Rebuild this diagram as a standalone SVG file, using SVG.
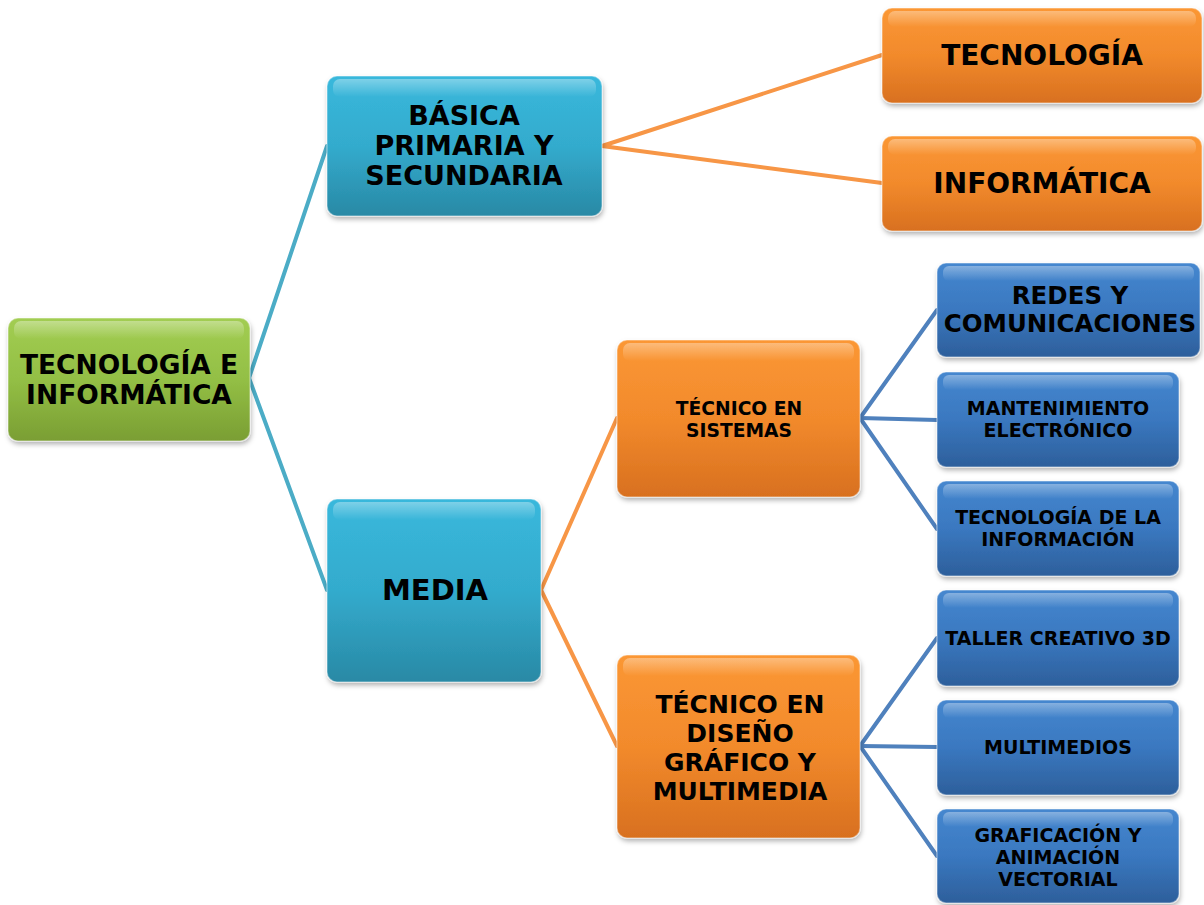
<svg xmlns="http://www.w3.org/2000/svg" width="1204" height="905" viewBox="0 0 1204 905">
<defs>
<linearGradient id="gGreen" x1="0" y1="0" x2="0" y2="1"><stop offset="0" stop-color="#a2cd52"/><stop offset="0.5" stop-color="#93bf45"/><stop offset="1" stop-color="#7a9e33"/></linearGradient>
<linearGradient id="gTeal" x1="0" y1="0" x2="0" y2="1"><stop offset="0" stop-color="#39b8dc"/><stop offset="0.5" stop-color="#33abcd"/><stop offset="1" stop-color="#2989a5"/></linearGradient>
<linearGradient id="gOrange" x1="0" y1="0" x2="0" y2="1"><stop offset="0" stop-color="#fb9734"/><stop offset="0.5" stop-color="#f28a2c"/><stop offset="1" stop-color="#d8701f"/></linearGradient>
<linearGradient id="gBlue" x1="0" y1="0" x2="0" y2="1"><stop offset="0" stop-color="#4587cf"/><stop offset="0.5" stop-color="#3a78c0"/><stop offset="1" stop-color="#2d5f9b"/></linearGradient>
<linearGradient id="gHi" x1="0" y1="0" x2="0" y2="1"><stop offset="0" stop-color="#fff" stop-opacity="0.35"/><stop offset="1" stop-color="#fff" stop-opacity="0"/></linearGradient>
<filter id="sh" x="-10%" y="-10%" width="120%" height="130%"><feDropShadow dx="1" dy="3" stdDeviation="2.5" flood-color="#000" flood-opacity="0.3"/></filter>
</defs>
<style>
.n{filter:url(#sh);stroke:#ffffff;stroke-opacity:0.35;stroke-width:1.5;}
.hi{fill:url(#gHi);}
text{font-family:"DejaVu Sans","Verdana",sans-serif;font-weight:bold;fill:#000;text-anchor:middle;dominant-baseline:central;}
.c{fill:none;stroke-width:4;stroke-linecap:round;stroke-linejoin:round;}
.ct{stroke:#4bacc6;}
.co{stroke:#f79646;}
.cb{stroke:#4f81bd;}
</style>
<g id="connectors">
<polyline class="c ct" points="327,146 249,378 327,590"/>
<polyline class="c co" points="882,55 602,146 882,183"/>
<polyline class="c co" points="617,418 541,590 617,746"/>
<polyline class="c cb" points="937,310 860,418 937,529"/>
<line class="c cb" x1="860" y1="418" x2="937" y2="420"/>
<polyline class="c cb" points="937,638 860,746 937,856"/>
<line class="c cb" x1="860" y1="746" x2="937" y2="747"/>
</g>
<g id="root">
<rect class="n" x="8" y="318" width="242" height="123" rx="10" fill="url(#gGreen)"/>
<rect class="hi" x="14" y="321" width="230" height="18" rx="7"/>
<text x="129" y="364" font-size="26.5">TECNOLOGÍA E</text>
<text x="129" y="394" font-size="26.5">INFORMÁTICA</text>
</g>
<g id="basica">
<rect class="n" x="327" y="76" width="275" height="140" rx="10" fill="url(#gTeal)"/>
<rect class="hi" x="333" y="79" width="263" height="18" rx="7"/>
<text x="464" y="115" font-size="27">BÁSICA</text>
<text x="464" y="145" font-size="27">PRIMARIA Y</text>
<text x="464" y="175" font-size="27">SECUNDARIA</text>
</g>
<g id="media">
<rect class="n" x="327" y="499" width="214" height="183" rx="10" fill="url(#gTeal)"/>
<rect class="hi" x="333" y="502" width="202" height="18" rx="7"/>
<text x="435" y="590" font-size="29">MEDIA</text>
</g>
<g id="tecnologia">
<rect class="n" x="882" y="8" width="320" height="95" rx="10" fill="url(#gOrange)"/>
<rect class="hi" x="888" y="11" width="308" height="16" rx="7"/>
<text x="1042" y="55" font-size="28">TECNOLOGÍA</text>
</g>
<g id="informatica">
<rect class="n" x="882" y="136" width="320" height="95" rx="10" fill="url(#gOrange)"/>
<rect class="hi" x="888" y="139" width="308" height="16" rx="7"/>
<text x="1042" y="183" font-size="28">INFORMÁTICA</text>
</g>
<g id="sistemas">
<rect class="n" x="617" y="340" width="243" height="157" rx="10" fill="url(#gOrange)"/>
<rect class="hi" x="623" y="343" width="231" height="18" rx="7"/>
<text x="739" y="408" font-size="18.7">TÉCNICO EN</text>
<text x="739" y="430" font-size="18.7">SISTEMAS</text>
</g>
<g id="diseno">
<rect class="n" x="617" y="655" width="243" height="183" rx="10" fill="url(#gOrange)"/>
<rect class="hi" x="623" y="658" width="231" height="18" rx="7"/>
<text x="740" y="704" font-size="25">TÉCNICO EN</text>
<text x="740" y="733" font-size="25">DISEÑO</text>
<text x="740" y="762" font-size="25">GRÁFICO Y</text>
<text x="740" y="791" font-size="25">MULTIMEDIA</text>
</g>
<g id="redes">
<rect class="n" x="937" y="263" width="263" height="94" rx="9" fill="url(#gBlue)"/>
<rect class="hi" x="943" y="266" width="251" height="15" rx="6"/>
<text x="1070" y="295" font-size="24.5">REDES Y</text>
<text x="1070" y="323" font-size="24.5">COMUNICACIONES</text>
</g>
<g id="mantenimiento">
<rect class="n" x="937" y="372" width="242" height="95" rx="9" fill="url(#gBlue)"/>
<rect class="hi" x="943" y="375" width="230" height="15" rx="6"/>
<text x="1058" y="408" font-size="19">MANTENIMIENTO</text>
<text x="1058" y="430" font-size="19">ELECTRÓNICO</text>
</g>
<g id="tecinfo">
<rect class="n" x="937" y="481" width="242" height="95" rx="9" fill="url(#gBlue)"/>
<rect class="hi" x="943" y="484" width="230" height="15" rx="6"/>
<text x="1058" y="517" font-size="19">TECNOLOGÍA DE LA</text>
<text x="1058" y="539" font-size="19">INFORMACIÓN</text>
</g>
<g id="taller">
<rect class="n" x="937" y="590" width="242" height="96" rx="9" fill="url(#gBlue)"/>
<rect class="hi" x="943" y="593" width="230" height="15" rx="6"/>
<text x="1058" y="638" font-size="19">TALLER CREATIVO 3D</text>
</g>
<g id="multimedios">
<rect class="n" x="937" y="700" width="242" height="95" rx="9" fill="url(#gBlue)"/>
<rect class="hi" x="943" y="703" width="230" height="15" rx="6"/>
<text x="1058" y="747" font-size="19">MULTIMEDIOS</text>
</g>
<g id="graficacion">
<rect class="n" x="937" y="809" width="242" height="94" rx="9" fill="url(#gBlue)"/>
<rect class="hi" x="943" y="812" width="230" height="15" rx="6"/>
<text x="1058" y="835" font-size="19">GRAFICACIÓN Y</text>
<text x="1058" y="857" font-size="19">ANIMACIÓN</text>
<text x="1058" y="879" font-size="19">VECTORIAL</text>
</g>
</svg>
